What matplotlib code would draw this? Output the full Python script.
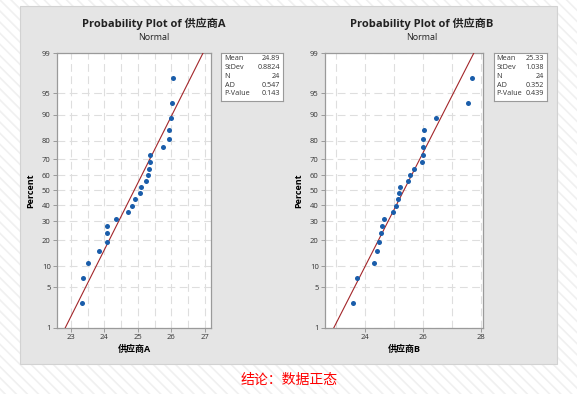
import numpy as np
import matplotlib
matplotlib.use("Agg")
import matplotlib.pyplot as plt
from matplotlib.patches import Rectangle
from matplotlib.ticker import MultipleLocator, FixedLocator
from statistics import NormalDist

plt.rcParams['font.family'] = ['Open Sans', 'Noto Sans CJK SC', 'DejaVu Sans']
plt.rcParams['hatch.linewidth'] = 1.2

supplier_a = [23.35, 23.37, 23.52, 23.85, 24.07, 24.07, 24.07, 24.34, 24.70, 24.83,
              24.91, 25.07, 25.09, 25.23, 25.30, 25.34, 25.36, 25.36, 25.74, 25.92,
              25.94, 25.98, 26.01, 26.04]
supplier_b = [23.57, 23.71, 24.30, 24.41, 24.47, 24.53, 24.59, 24.66, 24.96, 25.07,
              25.12, 25.16, 25.20, 25.48, 25.53, 25.68, 25.94, 25.99, 25.99, 25.99,
              26.01, 26.43, 27.53, 27.67]

stats_labels = ["Mean", "StDev", "N", "AD", "P-Value"]
stats_a = ["24.89", "0.8824", "24", "0.547", "0.143"]
stats_b = ["25.33", "1.038", "24", "0.352", "0.439"]
mean_a, sd_a = 24.89, 0.8824
mean_b, sd_b = 25.33, 1.038

pct_ticks = [1, 5, 10, 20, 30, 40, 50, 60, 70, 80, 90, 95, 99]

nd = NormalDist()
fwd = np.vectorize(lambda p: nd.inv_cdf(min(max(p / 100.0, 1e-9), 1 - 1e-9)), otypes=[float])
inv = np.vectorize(lambda z: nd.cdf(z) * 100.0, otypes=[float])

fig = plt.figure(figsize=(5.77, 3.94), dpi=100)
fig.patches.append(Rectangle((0, 0), 1, 1, transform=fig.transFigure, facecolor='white',
                             edgecolor='#f0f0f0', hatch='\\\\\\', lw=0, zorder=-10))
fig.patches.append(Rectangle((20 / 577, 1 - 363.5 / 394), 536.5 / 577, 357.5 / 394,
                             transform=fig.transFigure, facecolor='#e5e5e5',
                             edgecolor='#d2d2d2', lw=0.8, zorder=-5))


def prob_plot(rect, data, mean, sd, xlim, major, minor, name, box_rect, vals, title_x):
    ax = fig.add_axes(rect)
    n = len(data)
    pos = [(i + 1 - 0.3) / (n + 0.4) * 100 for i in range(n)]  # median ranks
    ax.set_yscale('function', functions=(fwd, inv))
    z1, z99 = nd.inv_cdf(0.01), nd.inv_cdf(0.99)
    ax.plot([mean + sd * z1, mean + sd * z99], [1, 99], color='#a3262a', lw=0.8, zorder=3)
    ax.scatter(data, pos, s=13, color='#1a5daa', zorder=4, linewidths=0)
    ax.set_xlim(*xlim)
    ax.set_ylim(1, 99)
    ax.yaxis.set_major_locator(FixedLocator(pct_ticks))
    ax.set_yticklabels([str(t) for t in pct_ticks])
    ax.yaxis.set_minor_locator(FixedLocator([]))
    ax.xaxis.set_major_locator(MultipleLocator(major))
    ax.xaxis.set_minor_locator(MultipleLocator(minor))
    ax.grid(True, which='both', axis='x', color='#dedede', lw=0.8, ls=(0, (7, 4)))
    ax.grid(True, which='major', axis='y', color='#dedede', lw=0.8, ls=(0, (7, 4)))
    ax.set_axisbelow(True)
    for s in ax.spines.values():
        s.set_color('#9a9a9a')
        s.set_linewidth(0.9)
    ax.tick_params(which='major', length=3, width=0.7, color='#9a9a9a', labelsize=5.5,
                   labelcolor='#333333', pad=1.5)
    ax.tick_params(which='minor', length=0)
    ax.set_xlabel(name, fontsize=6.5, fontweight='bold', labelpad=3)
    ax.set_ylabel("Percent", fontsize=6.5, fontweight='bold', labelpad=5)
    fig.text(title_x, 1 - 24 / 394, "Probability Plot of " + name, ha='center', va='center',
             fontsize=8, fontweight='bold', color='#222222')
    fig.text(title_x, 1 - 37 / 394, "Normal", ha='center', va='center', fontsize=6.5,
             color='#222222')
    bx = fig.add_axes(box_rect)
    bx.set_xticks([])
    bx.set_yticks([])
    for s in bx.spines.values():
        s.set_color('#9a9a9a')
        s.set_linewidth(0.8)
    for k, (lab, v) in enumerate(zip(stats_labels, vals)):
        yy = 0.88 - k * 0.183
        bx.text(0.06, yy, lab, fontsize=5.2, va='center', ha='left', color='#333333',
                transform=bx.transAxes)
        bx.text(0.95, yy, v, fontsize=5.2, va='center', ha='right', color='#333333',
                transform=bx.transAxes)
    return ax


prob_plot([57 / 577, 1 - 327.7 / 394, 154 / 577, 274.7 / 394], supplier_a, mean_a, sd_a,
          (22.59, 27.18), 1, 0.5, "供应商A",
          [221 / 577, 1 - 101 / 394, 62 / 577, 48 / 394], stats_a, 154 / 577)
prob_plot([325 / 577, 1 - 327.7 / 394, 158 / 577, 274.7 / 394], supplier_b, mean_b, sd_b,
          (22.61, 28.06), 2, 1, "供应商B",
          [493.5 / 577, 1 - 101 / 394, 53.5 / 577, 48 / 394], stats_b, 422 / 577)

fig.text(289 / 577, 1 - 380 / 394, "结论：数据正态", ha='center', va='center', fontsize=10,
         color='#ff0000', family=['Noto Sans CJK SC', 'DejaVu Sans'])

fig.savefig("out.png", dpi=100)
